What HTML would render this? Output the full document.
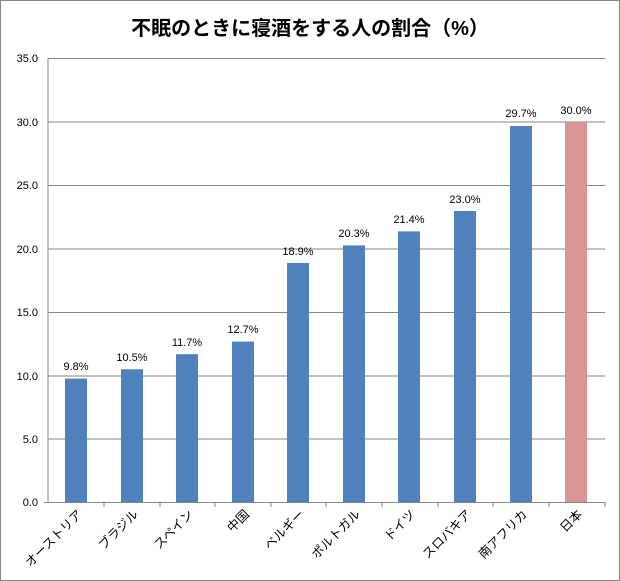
<!DOCTYPE html><html><head><style>body{margin:0;background:#fff}svg{display:block}text{font-family:"Liberation Sans","Noto Sans CJK JP",sans-serif}</style></head><body>
<svg width="620" height="581" xmlns="http://www.w3.org/2000/svg">
<rect x="0.5" y="0.5" width="619" height="580" fill="#fff" stroke="#868686"/>
<text x="310" y="35" text-anchor="middle" font-size="20" font-weight="bold" fill="#000">不眠のときに寝酒をする人の割合（%）</text>
<g stroke="#868686" stroke-width="1">
<line x1="48" y1="58.5" x2="605" y2="58.5"/><line x1="48" y1="122" x2="605" y2="122"/><line x1="48" y1="185.5" x2="605" y2="185.5"/><line x1="48" y1="249" x2="605" y2="249"/><line x1="48" y1="312.5" x2="605" y2="312.5"/><line x1="48" y1="376" x2="605" y2="376"/><line x1="48" y1="439" x2="605" y2="439"/>
<line x1="48" y1="58" x2="48" y2="502"/><line x1="44" y1="502.5" x2="605" y2="502.5"/>
<line x1="104" y1="502" x2="104" y2="507"/><line x1="160" y1="502" x2="160" y2="507"/><line x1="215" y1="502" x2="215" y2="507"/><line x1="271" y1="502" x2="271" y2="507"/><line x1="326" y1="502" x2="326" y2="507"/><line x1="382" y1="502" x2="382" y2="507"/><line x1="438" y1="502" x2="438" y2="507"/><line x1="493" y1="502" x2="493" y2="507"/><line x1="549" y1="502" x2="549" y2="507"/><line x1="605" y1="502" x2="605" y2="507"/>
</g>
<g font-size="11" text-anchor="end" fill="#000">
<text x="38" y="62">35.0</text><text x="38" y="126">30.0</text><text x="38" y="189">25.0</text><text x="38" y="253">20.0</text><text x="38" y="316">15.0</text><text x="38" y="380">10.0</text><text x="38" y="443">5.0</text><text x="38" y="506">0.0</text>
</g>
<g fill="#4f81bd">
<rect x="65" y="378.6" width="22" height="123.4"/><rect x="121" y="369.3" width="22" height="132.7"/><rect x="176" y="354.2" width="22" height="147.8"/><rect x="232" y="341.6" width="22" height="160.4"/><rect x="287" y="263" width="22" height="239"/><rect x="343" y="245.4" width="22" height="256.6"/><rect x="398" y="231.4" width="22" height="270.6"/><rect x="454" y="211" width="22" height="291"/><rect x="510" y="126" width="22" height="376"/>
</g>
<rect x="565" y="122" width="22" height="380" fill="#d99694"/>
<g font-size="11" text-anchor="middle" fill="#000">
<text x="76" y="370">9.8%</text><text x="132" y="361">10.5%</text><text x="187" y="346">11.7%</text><text x="243" y="333">12.7%</text><text x="298" y="255">18.9%</text><text x="354" y="237">20.3%</text><text x="409" y="223">21.4%</text><text x="465" y="203">23.0%</text><text x="521" y="117">29.7%</text><text x="576" y="114">30.0%</text>
</g>
<g font-size="12.5" text-anchor="end" fill="#000">
<text transform="translate(83,515) rotate(-45)">オーストリア</text>
<text transform="translate(139,515) rotate(-45)">ブラジル</text>
<text transform="translate(194,515) rotate(-45)">スペイン</text>
<text transform="translate(250,515) rotate(-45)">中国</text>
<text transform="translate(305,515) rotate(-45)">ベルギー</text>
<text transform="translate(361,515) rotate(-45)">ポルトガル</text>
<text transform="translate(416,515) rotate(-45)">ドイツ</text>
<text transform="translate(472,515) rotate(-45)">スロバキア</text>
<text transform="translate(528,515) rotate(-45)">南アフリカ</text>
<text transform="translate(583,515) rotate(-45)">日本</text>
</g>
</svg></body></html>
